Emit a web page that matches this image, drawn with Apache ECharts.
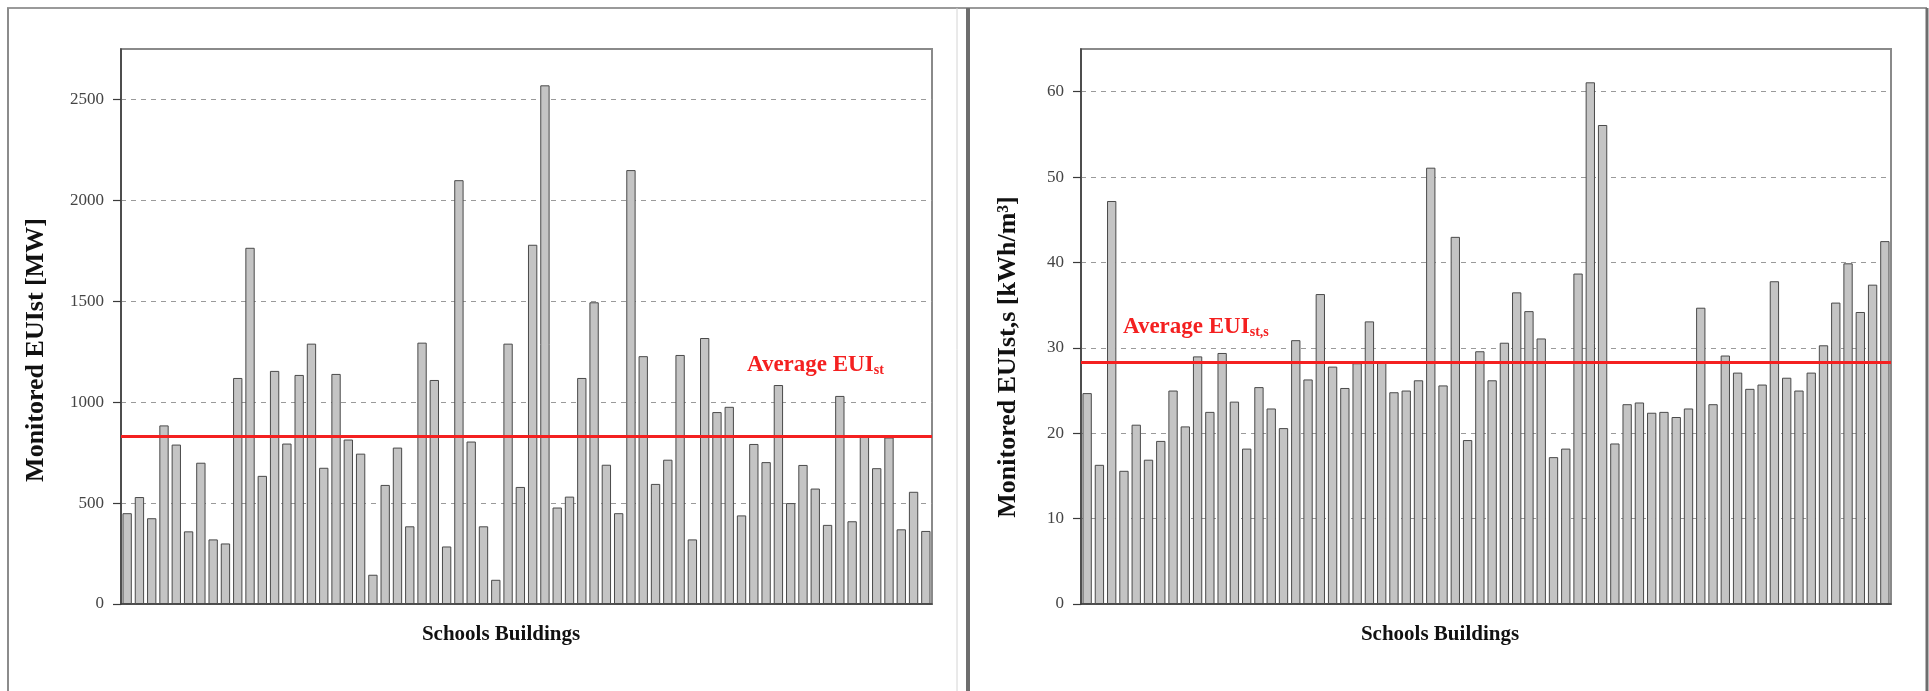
<!DOCTYPE html>
<html>
<head>
<meta charset="utf-8">
<script src="https://cdn.jsdelivr.net/npm/echarts@6/dist/echarts.min.js"></script>
<style>
html,body{margin:0;padding:0;background:#fff;}
#c{width:1929px;height:691px;}
</style>
</head>
<body>
<div id="c"></div>
<script>
// ---- data ----
const schools = Array.from({length: 66}, (_, i) => 'School ' + (i + 1));

// Left panel: Monitored EUIst [MW]
const euiStMW = [450,530,425,885,790,360,700,320,300,1120,
  1765,635,1155,795,1135,1290,675,1140,815,745,
  145,590,775,385,1295,1110,285,2100,805,385,
  120,1290,580,1780,2570,478,532,1120,1495,690,
  450,2150,1228,595,715,1234,320,1318,951,977,
  439,793,703,1085,500,689,572,392,1031,410,
  835,673,825,370,556,362];
const averageEuiStMW = 830;
const leftTicks = [0,500,1000,1500,2000,2500];

// Right panel: Monitored EUIst,s [kWh/m3]
const euiStsKWh = [24.7,16.3,47.2,15.6,21.0,16.9,19.1,25.0,20.8,29.0,
  22.5,29.4,23.7,18.2,25.4,22.9,20.6,30.9,26.3,36.3,
  27.8,25.3,28.2,33.1,28.4,24.8,25.0,26.2,51.1,25.6,
  43.0,19.2,29.6,26.2,30.6,36.5,34.3,31.1,17.2,18.2,
  38.7,61.1,56.1,18.8,23.4,23.6,22.4,22.5,21.9,22.9,
  34.7,23.4,29.1,27.1,25.2,25.7,37.8,26.5,25.0,27.1,
  30.3,35.3,39.9,34.2,37.4,42.5];
const averageEuiStsKWh = 28.3;
const rightTicks = [0,10,20,30,40,50,60];

// ---- chart ----
const SERIF = "'Liberation Serif','Times New Roman',serif";
const RED = '#f42020';
const chart = echarts.init(document.getElementById('c'), null, {renderer: 'canvas'});

function yAxisCfg(idx, max, interval, ticks) {
  return {
    type: 'value', gridIndex: idx, min: 0, max: max, interval: interval,
    axisLine: {show: true, lineStyle: {color: '#3a3a3a', width: 1.5}},
    axisTick: {show: true, length: 8, customValues: ticks, lineStyle: {color: '#3a3a3a', width: 1.2}},
    axisLabel: {customValues: ticks, margin: 17, fontFamily: SERIF, fontSize: 17, color: '#444',
      formatter: v => (ticks.indexOf(v) >= 0 ? String(v) : '')},
    splitLine: {show: true, lineStyle: {color: '#9a9a9a', type: [5, 5], width: 1}}
  };
}
function xAxisCfg(idx) {
  return {
    type: 'category', gridIndex: idx, data: schools, boundaryGap: true,
    axisLine: {show: true, lineStyle: {color: '#3a3a3a', width: 1.5}},
    axisTick: {show: false}, axisLabel: {show: false}, splitLine: {show: false}
  };
}
function barSeries(idx, data, avg) {
  return {
    type: 'bar', xAxisIndex: idx, yAxisIndex: idx, data: data,
    barCategoryGap: '24%',
    itemStyle: {color: '#c4c4c4', borderColor: '#4a4a4a', borderWidth: 1},
    emphasis: {disabled: true},
    markLine: {
      silent: true, symbol: 'none', animation: false,
      label: {show: false},
      lineStyle: {color: RED, width: 3, type: 'solid'},
      data: [{yAxis: avg}]
    }
  };
}

const option = {
  animation: false,
  backgroundColor: '#ffffff',
  grid: [
    {left: 121, top: 49, width: 811, height: 555, show: true, borderColor: '#8a8a8a', borderWidth: 2, backgroundColor: '#fff'},
    {left: 1081, top: 49, width: 810, height: 555, show: true, borderColor: '#8a8a8a', borderWidth: 2, backgroundColor: '#fff'}
  ],
  xAxis: [xAxisCfg(0), xAxisCfg(1)],
  yAxis: [yAxisCfg(0, 2750, 500, leftTicks), yAxisCfg(1, 65, 10, rightTicks)],
  series: [barSeries(0, euiStMW, averageEuiStMW), barSeries(1, euiStsKWh, averageEuiStsKWh)],
  graphic: [
    // panel frames
    {type: 'line', shape: {x1: 7, y1: 8, x2: 1927, y2: 8}, style: {stroke: '#9a9a9a', lineWidth: 2}, silent: true},
    {type: 'line', shape: {x1: 8, y1: 8, x2: 8, y2: 691}, style: {stroke: '#8c8c8c', lineWidth: 2}, silent: true},
    {type: 'line', shape: {x1: 957, y1: 8, x2: 957, y2: 691}, style: {stroke: '#d4d4d4', lineWidth: 1}, silent: true},
    {type: 'line', shape: {x1: 968, y1: 8, x2: 968, y2: 691}, style: {stroke: '#6e6e6e', lineWidth: 4}, silent: true},
    {type: 'line', shape: {x1: 1927, y1: 8, x2: 1927, y2: 691}, style: {stroke: '#6e6e6e', lineWidth: 3}, silent: true},
    // axis titles
    {type: 'text', x: 36, y: 350, rotation: Math.PI / 2, silent: true,
      style: {text: 'Monitored EUIst [MW]', font: "bold 26px 'Liberation Serif','Times New Roman',serif", fill: '#111', align: 'center', verticalAlign: 'middle'}},
    {type: 'text', x: 1008, y: 357, rotation: Math.PI / 2, silent: true,
      style: {text: 'Monitored EUIst,s [kWh/m³]', font: "bold 26px 'Liberation Serif','Times New Roman',serif", fill: '#111', align: 'center', verticalAlign: 'middle'}},
    {type: 'text', x: 501, y: 635, silent: true,
      style: {text: 'Schools Buildings', font: "bold 21px 'Liberation Serif','Times New Roman',serif", fill: '#111', align: 'center', verticalAlign: 'middle'}},
    {type: 'text', x: 1440, y: 635, silent: true,
      style: {text: 'Schools Buildings', font: "bold 21px 'Liberation Serif','Times New Roman',serif", fill: '#111', align: 'center', verticalAlign: 'middle'}},
    // average labels
    {type: 'text', x: 747, y: 364, silent: true,
      style: {text: '{a|Average EUI}{b|st}', align: 'left', verticalAlign: 'middle',
        rich: {
          a: {fontFamily: SERIF, fontWeight: 'bold', fontSize: 23, fill: RED, color: RED, lineHeight: 26, verticalAlign: 'bottom'},
          b: {fontFamily: SERIF, fontWeight: 'bold', fontSize: 14, fill: RED, color: RED, lineHeight: 13, verticalAlign: 'bottom'}
        }}},
    {type: 'text', x: 1123, y: 326, silent: true,
      style: {text: '{a|Average EUI}{b|st,s}', align: 'left', verticalAlign: 'middle',
        rich: {
          a: {fontFamily: SERIF, fontWeight: 'bold', fontSize: 23, fill: RED, color: RED, lineHeight: 26, verticalAlign: 'bottom'},
          b: {fontFamily: SERIF, fontWeight: 'bold', fontSize: 14, fill: RED, color: RED, lineHeight: 13, verticalAlign: 'bottom'}
        }}}
  ]
};
chart.setOption(option);
</script>
</body>
</html>
